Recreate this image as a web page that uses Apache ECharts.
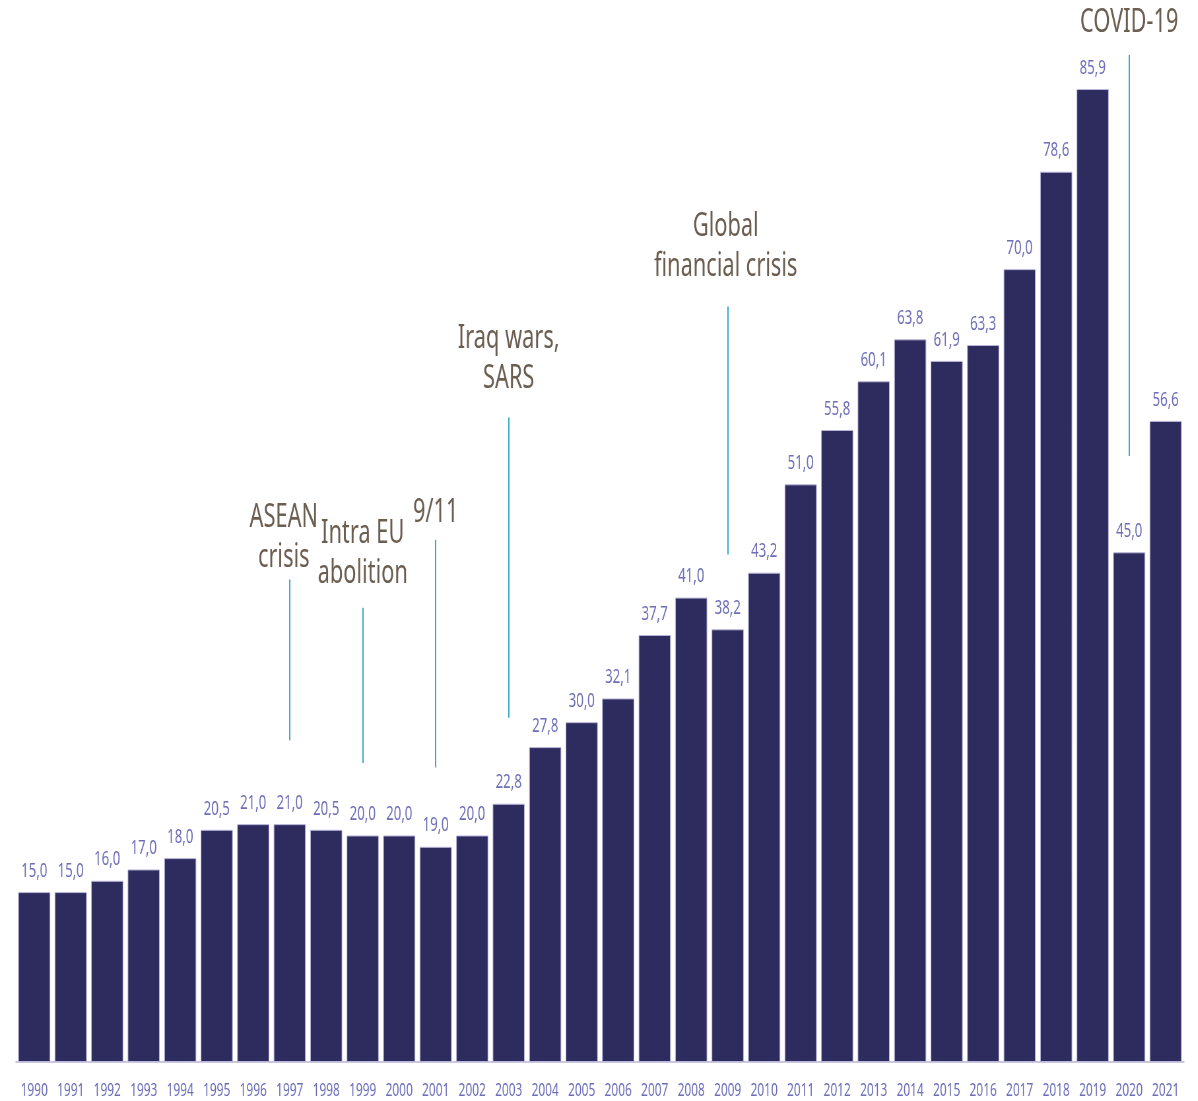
<!DOCTYPE html>
<html><head><meta charset="utf-8">
<script src="https://cdn.jsdelivr.net/npm/echarts@6/dist/echarts.min.js"></script>
<style>
html,body{margin:0;padding:0;background:#fff;overflow:hidden;width:1198px;height:1101px}
#wrap{width:1198px;height:1101px;overflow:hidden;position:relative}
#c{width:1815px;height:1101px;transform:scaleX(0.66);transform-origin:0 0;position:absolute;left:0;top:0}
</style>
</head><body><div id="wrap"><div id="c"></div></div>
<script>
const years = ['1990','1991','1992','1993','1994','1995','1996','1997','1998','1999','2000','2001','2002','2003','2004','2005','2006','2007','2008','2009','2010','2011','2012','2013','2014','2015','2016','2017','2018','2019','2020','2021'];
const values = [15.0,15.0,16.0,17.0,18.0,20.5,21.0,21.0,20.5,20.0,20.0,19.0,20.0,22.8,27.8,30.0,32.1,37.7,41.0,38.2,43.2,51.0,55.8,60.1,63.8,61.9,63.3,70.0,78.6,85.9,45.0,56.6];
const annYears = ['1997','1999','2001','2003','2009','2020'];
const annFrom = [28.4,26.4,26.0,30.4,44.8,53.5];
const annTo = [42.6,40.1,46.1,56.9,66.7,88.9];
const annText = ['ASEAN\ncrisis','Intra EU\nabolition','9/11','Iraq wars,\nSARS','Global\nfinancial crisis','COVID-19'];

const FONT = "'Noto Sans','Open Sans',sans-serif";
const labelGap = [2, 14, 7, 19, 20, 12];
const labelPad = [[0,18,0,0],[0,0,0,0],[0,0,0,0],[0,0,0,0],[0,6,0,0],[0,0,0,0]];
const chart = echarts.init(document.getElementById('c'));
const markData = annYears.map((y, i) => [
  {coord: [y, annFrom[i]]},
  {coord: [y, annTo[i]], label: {show: true, position: 'end', distance: labelGap[i], formatter: annText[i],
     padding: labelPad[i], color: '#6b5e50', fontSize: 33, lineHeight: 40, fontFamily: FONT}}
]);
chart.setOption({
  animation: false,
  grid: {left: 24.2, right: 21.2, top: 42.6, bottom: 39},
  xAxis: {type: 'category', data: years,
    axisLine: {lineStyle: {color: '#c9c7e3', width: 2}},
    axisTick: {show: false},
    axisLabel: {color: '#6d6db8', fontSize: 18, fontFamily: FONT, margin: 20, interval: 0}},
  yAxis: {type: 'value', min: 0, max: 90, show: false, splitLine: {show: false}},
  series: [{
    type: 'bar', data: values, barCategoryGap: '12%',
    itemStyle: {color: '#2e2b5e', borderColor: '#b8b5da', borderWidth: 1},
    label: {show: true, position: 'top', distance: 11, color: '#6d6db8', fontSize: 20, fontFamily: FONT,
      formatter: p => p.value.toFixed(1).replace('.', ',')},
    markLine: {silent: true, symbol: ['none','none'],
      lineStyle: {color: '#3aa8cf', width: 2, type: 'solid'},
      label: {show: false},
      data: markData}
  }]
});
</script></body></html>
